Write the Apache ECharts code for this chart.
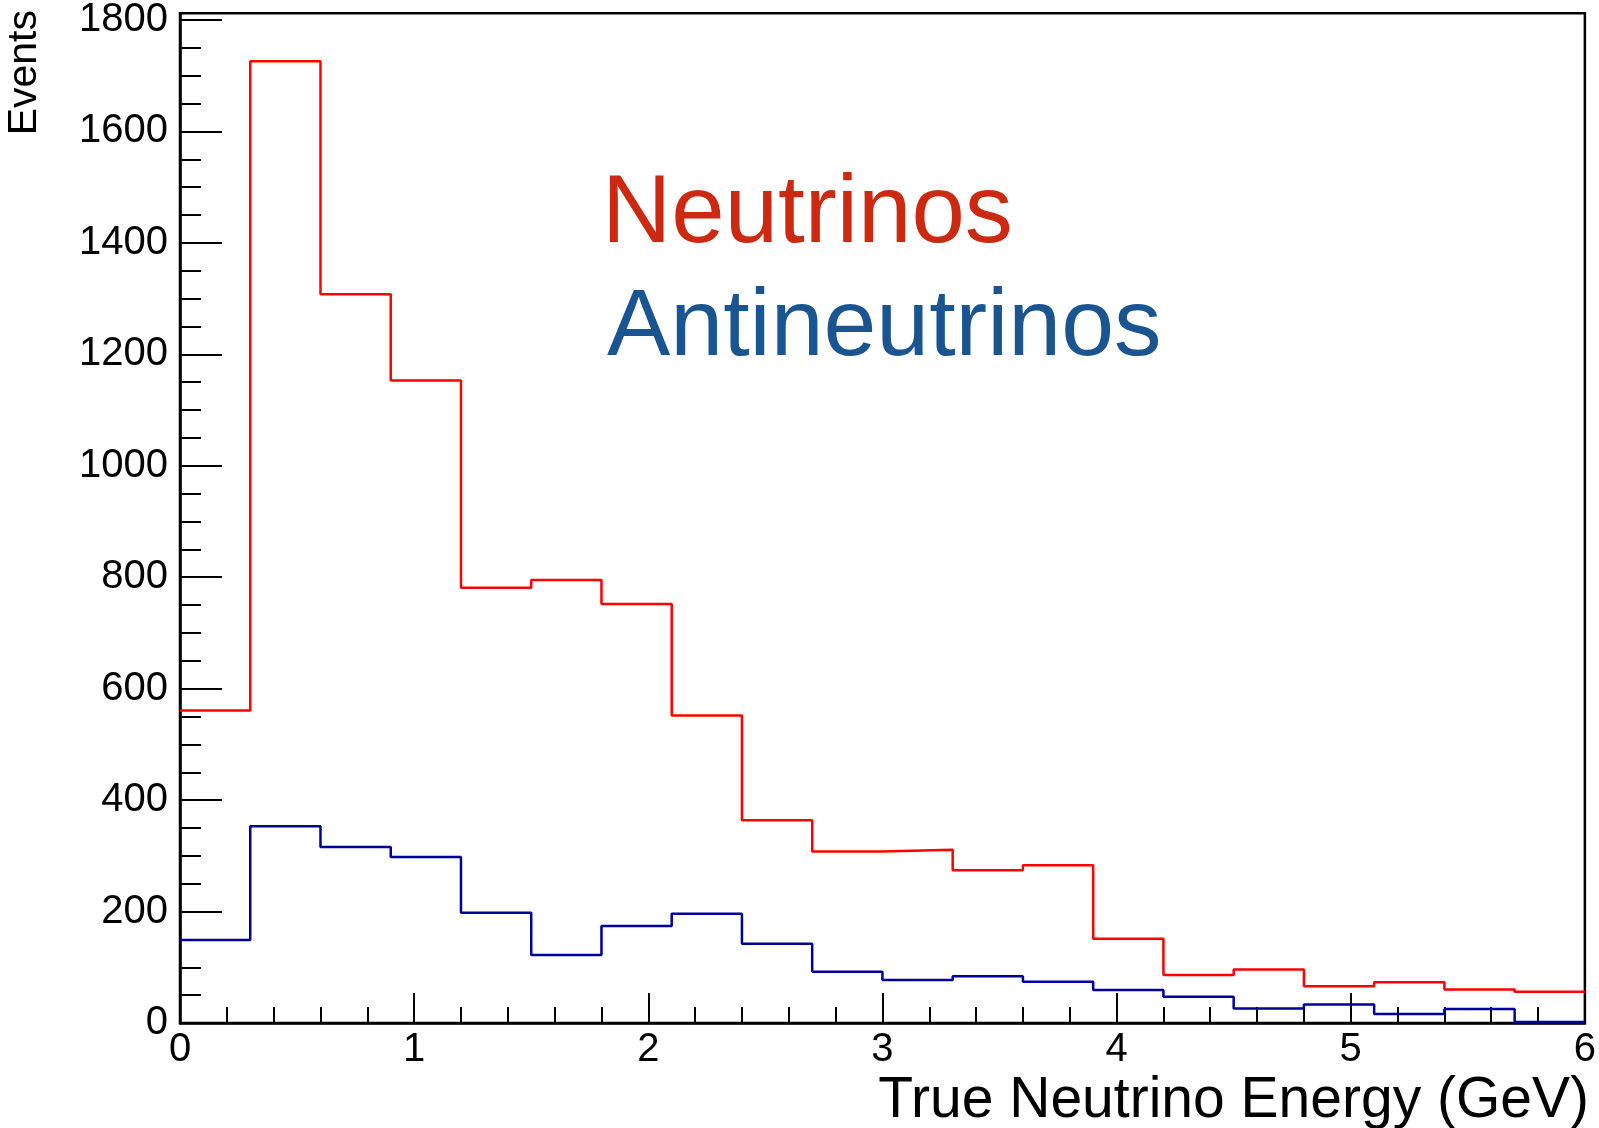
<!DOCTYPE html>
<html>
<head>
<meta charset="utf-8">
<script src="https://cdn.jsdelivr.net/npm/echarts@6.0.0/dist/echarts.min.js"></script>
<style>
    html, body { margin: 0; padding: 0; background: #fff; }
    #chart { width: 1599px; height: 1128px; }
</style>
</head>
<body>
<div id="chart"></div>
<script>
// bin edges in GeV (20 bins of 0.3)
var binEdges = [0, 0.3, 0.6, 0.9, 1.2, 1.5, 1.8, 2.1, 2.4, 2.7, 3.0,
    3.3, 3.6, 3.9, 4.2, 4.5, 4.8, 5.1, 5.4, 5.7, 6.0]
var neutrinos = [561, 1726, 1308, 1153, 781, 795, 752, 552, 364, 308,
    311, 274, 283, 151, 86, 96, 66, 73, 60, 56]
var antineutrinos = [149, 353, 316, 298, 198, 122, 174, 196, 142, 92,
    77, 84, 74, 59, 47, 26, 33, 16, 25, 2]
var yMajor = [0, 200, 400, 600, 800, 1000, 1200, 1400, 1600, 1800]
var yMinor = [50, 100, 150, 250, 300, 350, 450, 500, 550, 650, 700, 750,
    850, 900, 950, 1050, 1100, 1150, 1250, 1300, 1350, 1450, 1500, 1550,
    1650, 1700, 1750]

var FONT = '"Liberation Sans", Arial, Helvetica, sans-serif'

// histogram outline: one point per lower edge, plus the last upper edge
var toSteps = function (vals) {
    return binEdges.map((x, i) => [x, vals[Math.min(i, vals.length - 1)]])
}

var mergeOption = function () {
    return {
        animation: false,
        grid: {
            left: 180,
            right: 11,
            top: 10,
            bottom: 105,
            show: true,
            borderColor: '#000',
            borderWidth: 2.5
        },
        xAxis: {
            type: 'value',
            min: 0,
            max: 6,
            interval: 1,
            axisLine: { show: true, onZero: false, lineStyle: { color: '#000', width: 2.5 } },
            axisTick: { show: true, inside: true, length: 30, lineStyle: { color: '#000', width: 2 } },
            minorTick: { show: true, splitNumber: 5, length: 16, lineStyle: { color: '#000', width: 2 } },
            splitLine: { show: false },
            axisLabel: {
                color: '#000',
                fontSize: 40,
                fontFamily: FONT,
                margin: 7,
                showMaxLabel: true,
                showMinLabel: true,
                formatter: v => String(v)
            }
        },
        yAxis: [{
            type: 'value',
            min: 0,
            max: 1812,
            axisLine: { show: true, lineStyle: { color: '#000', width: 2.5 } },
            axisTick: {
                show: true, inside: true, length: 42,
                customValues: yMajor,
                lineStyle: { color: '#000', width: 2 }
            },
            splitLine: { show: false },
            axisLabel: {
                color: '#000',
                fontSize: 40,
                fontFamily: FONT,
                margin: 12,
                customValues: yMajor,
                formatter: v => String(v)
            }
        }, {
            type: 'value',
            min: 0,
            max: 1812,
            position: 'left',
            axisLine: { show: false },
            axisTick: {
                show: true, inside: true, length: 21,
                customValues: yMinor,
                lineStyle: { color: '#000', width: 2 }
            },
            splitLine: { show: false },
            axisLabel: { show: false }
        }],
        series: [{
            name: 'Antineutrinos',
            type: 'line',
            step: 'end',
            showSymbol: false,
            lineStyle: { color: '#000099', width: 2.5 },
            data: toSteps(antineutrinos)
        }, {
            name: 'Neutrinos',
            type: 'line',
            step: 'end',
            showSymbol: false,
            lineStyle: { color: '#ff0000', width: 2.5 },
            data: toSteps(neutrinos)
        }],
        graphic: [{
            type: 'text',
            x: 602,
            y: 216,
            style: {
                text: 'Neutrinos',
                fill: '#cc2a10',
                font: '96px ' + FONT,
                textAlign: 'left',
                textVerticalAlign: 'middle',
                align: 'left',
                verticalAlign: 'middle'
            }
        }, {
            type: 'text',
            x: 607,
            y: 329,
            style: {
                text: 'Antineutrinos',
                fill: '#1a5592',
                font: '95px ' + FONT,
                textAlign: 'left',
                textVerticalAlign: 'middle',
                align: 'left',
                verticalAlign: 'middle'
            }
        }, {
            type: 'text',
            x: 1589,
            y: 1101,
            style: {
                text: 'True Neutrino Energy (GeV)',
                fill: '#000',
                font: '57px ' + FONT,
                textAlign: 'right',
                textVerticalAlign: 'middle',
                align: 'right',
                verticalAlign: 'middle'
            }
        }, {
            type: 'text',
            x: 25,
            y: 10,
            rotation: Math.PI / 2,
            style: {
                text: 'Events',
                fill: '#000',
                font: '41px ' + FONT,
                textAlign: 'right',
                textVerticalAlign: 'middle',
                align: 'right',
                verticalAlign: 'middle'
            }
        }]
    }
}

var chart = echarts.init(document.getElementById('chart'))
chart.setOption(mergeOption())
</script>
</body>
</html>
